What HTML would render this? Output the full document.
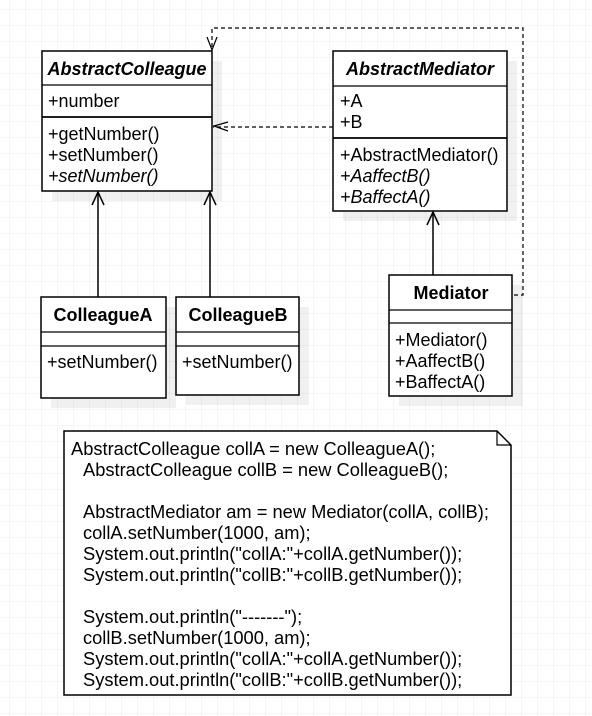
<!DOCTYPE html>
<html><head><style>
html,body{margin:0;padding:0;background:#fff}
svg{display:block}
text{font-family:"Liberation Sans",Arial,sans-serif;font-size:18px;fill:#000}
.n text{font-size:18.3px}
</style></head><body>
<svg width="592" height="716" xmlns="http://www.w3.org/2000/svg">
<defs>
<pattern id="g" width="16" height="16" patternUnits="userSpaceOnUse" x="10" y="10">
<path d="M16 0V16H0" fill="none" stroke="#ececec" stroke-width="1"/>
</pattern>
</defs>
<rect width="592" height="716" fill="url(#g)"/>
<g fill="#000" fill-opacity="0.06">
<rect x="52" y="61" width="170" height="140"/>
<rect x="343" y="61" width="174" height="160"/>
<rect x="51" y="307" width="125" height="101"/>
<rect x="186" y="307" width="123" height="98"/>
<rect x="399" y="285" width="124" height="121"/>
</g>
<g fill="#fff" stroke="#000" stroke-width="1.5">
<rect x="42" y="51" width="170" height="140"/>
<rect x="333" y="51" width="174" height="160"/>
<rect x="41" y="297" width="125" height="101"/>
<rect x="176" y="297" width="123" height="98"/>
<rect x="389" y="275" width="123" height="121"/>
</g>
<g stroke="#000" stroke-width="1.2">
<line x1="42" y1="85" x2="212" y2="85"/><line x1="42" y1="117" x2="212" y2="117" stroke-width="1.8"/>
<line x1="333" y1="86" x2="507" y2="86"/><line x1="333" y1="138" x2="507" y2="138" stroke-width="1.8"/>
<line x1="41" y1="332" x2="166" y2="332"/><line x1="41" y1="346" x2="166" y2="346"/>
<line x1="176" y1="332" x2="299" y2="332"/><line x1="176" y1="346" x2="299" y2="346"/>
<line x1="389" y1="310" x2="512" y2="310"/><line x1="389" y1="323" x2="512" y2="323"/>
</g>
<g stroke="#000" stroke-width="1.5" fill="none">
<line x1="98" y1="192" x2="98" y2="297"/><path d="M92 205L98 192L104 205"/>
<line x1="210" y1="192" x2="210" y2="297"/><path d="M204 205L210 192L216 205"/>
<line x1="433" y1="212" x2="433" y2="275"/><path d="M427 225L433 212L439 225"/>
</g>
<g stroke="#000" stroke-width="1.2" fill="none">
<path d="M333 127H213" stroke-dasharray="4,3"/><path d="M228 122L214 126L228 131"/>
<path d="M514 295H523V28H212V50" stroke-dasharray="4,3"/><path d="M207 37L212 50L217 37"/>
</g>
<text x="127" y="75" text-anchor="middle" font-weight="bold" font-style="italic">AbstractColleague</text>
<text x="48" y="107">+number</text>
<text x="48" y="140">+getNumber()</text>
<text x="48" y="161">+setNumber()</text>
<text x="48" y="182" font-style="italic">+setNumber()</text>
<text x="420" y="75" text-anchor="middle" font-weight="bold" font-style="italic">AbstractMediator</text>
<text x="340" y="107">+A</text>
<text x="340" y="128">+B</text>
<text x="340" y="161">+AbstractMediator()</text>
<text x="340" y="182" font-style="italic">+AaffectB()</text>
<text x="340" y="203" font-style="italic">+BaffectA()</text>
<text x="103" y="321" text-anchor="middle" font-weight="bold">ColleagueA</text>
<text x="47" y="368">+setNumber()</text>
<text x="238" y="321" text-anchor="middle" font-weight="bold">ColleagueB</text>
<text x="182" y="368">+setNumber()</text>
<text x="451" y="299" text-anchor="middle" font-weight="bold">Mediator</text>
<text x="395" y="346">+Mediator()</text>
<text x="395" y="367">+AaffectB()</text>
<text x="395" y="388">+BaffectA()</text>
<path d="M64 431H497L511 445V695H64Z" fill="#fff" stroke="#000" stroke-width="1.5"/>
<path d="M497 431V445H511" fill="none" stroke="#000" stroke-width="1.2"/>
<g class="n">
<text x="71" y="455">AbstractColleague collA = new ColleagueA();</text>
<text x="83" y="476">AbstractColleague collB = new ColleagueB();</text>
<text x="83" y="518">AbstractMediator am = new Mediator(collA, collB);</text>
<text x="83" y="539">collA.setNumber(1000, am);</text>
<text x="83" y="560">System.out.println("collA:"+collA.getNumber());</text>
<text x="83" y="581">System.out.println("collB:"+collB.getNumber());</text>
<text x="83" y="623">System.out.println("-------");</text>
<text x="83" y="644">collB.setNumber(1000, am);</text>
<text x="83" y="665">System.out.println("collA:"+collA.getNumber());</text>
<text x="83" y="686">System.out.println("collB:"+collB.getNumber());</text>
</g>
</svg>
</body></html>
